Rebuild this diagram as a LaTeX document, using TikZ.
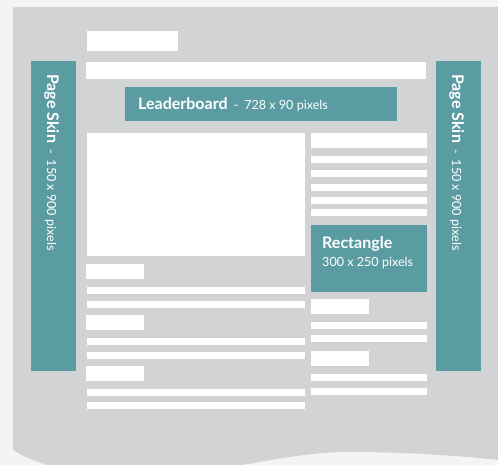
\documentclass[tikz,border=0pt]{standalone}
\usepackage{fontspec}
\setmainfont{Lato}
\definecolor{bgcol}{HTML}{F4F4F4}
\definecolor{panel}{HTML}{D2D3D5}
\definecolor{teal}{HTML}{5B9CA2}
\tikzset{
  wbar/.style={fill=white},
  tbox/.style={fill=teal},
  lbl/.style={inner sep=0pt, text=white},
}
\newcommand{\bigfont}{\fontsize{16}{19}\selectfont\bfseries}
\newcommand{\smallfont}{\fontsize{12.6}{15}\selectfont}
\begin{document}
\begin{tikzpicture}[x=1pt,y=-1pt]
\useasboundingbox (0,0) rectangle (498,465);
\clip (0,0) rectangle (498,465);
\fill[bgcol] (0,0) rectangle (498,465);
% panel with wavy bottom
\fill[panel] (13,7) -- (500,7) -- (500,460)
  .. controls (450,455) and (400,452) .. (350,452)
  .. controls (300,452) and (255,464) .. (200,472)
  -- (80,472)
  .. controls (50,468) and (25,458) .. (13,450) -- cycle;
% page skins
\fill[tbox] (31,61) rectangle (76,371);
\fill[tbox] (436,61) rectangle (481,371);
\node[lbl, rotate=-90, anchor=base west] (skinL) at (47,74)
  {{\bigfont Page Skin}\hspace{6pt}{\smallfont -\hspace{6pt}150 x 900 pixels}};
\node[lbl, rotate=-90, anchor=base west] (skinR) at (452,74)
  {{\bigfont Page Skin}\hspace{6pt}{\smallfont -\hspace{6pt}150 x 900 pixels}};
% header
\fill[wbar] (87,31) rectangle (178,51);
\fill[wbar] (86,62) rectangle (426,79);
\fill[tbox] (125,87) rectangle (397,121);
\node[lbl, anchor=base west] (lead) at (138,110)
  {{\bigfont Leaderboard}\hspace{6pt}{\smallfont -\hspace{6pt}728 x 90 pixels}};
% main content
\fill[wbar] (87,133) rectangle (305,256);
\fill[wbar] (86,264) rectangle (144,279);
\fill[wbar] (87,287) rectangle (305,294);
\fill[wbar] (87,301) rectangle (305,308);
\fill[wbar] (86,315) rectangle (144,330);
\fill[wbar] (87,338) rectangle (305,345);
\fill[wbar] (87,352) rectangle (305,359);
\fill[wbar] (86,366) rectangle (144,381);
\fill[wbar] (87,389) rectangle (305,396);
\fill[wbar] (87,402) rectangle (305,409);
% right column
\fill[wbar] (311,133) rectangle (427,148);
\fill[wbar] (311,156) rectangle (427,163);
\fill[wbar] (311,170) rectangle (427,177);
\fill[wbar] (311,184) rectangle (427,191);
\fill[wbar] (311,197) rectangle (427,204);
\fill[wbar] (311,209) rectangle (427,216);
\fill[tbox] (311,225) rectangle (427,292);
\node[lbl, anchor=base west] (rect) at (322,249) {\bigfont Rectangle};
\node[lbl, anchor=base west] (rectsize) at (322,266) {\smallfont 300 x 250 pixels};
\fill[wbar] (311,299) rectangle (369,314);
\fill[wbar] (311,322) rectangle (427,329);
\fill[wbar] (311,335) rectangle (427,342);
\fill[wbar] (311,351) rectangle (369,366);
\fill[wbar] (311,374) rectangle (427,381);
\fill[wbar] (311,388) rectangle (427,395);
\end{tikzpicture}
\end{document}
